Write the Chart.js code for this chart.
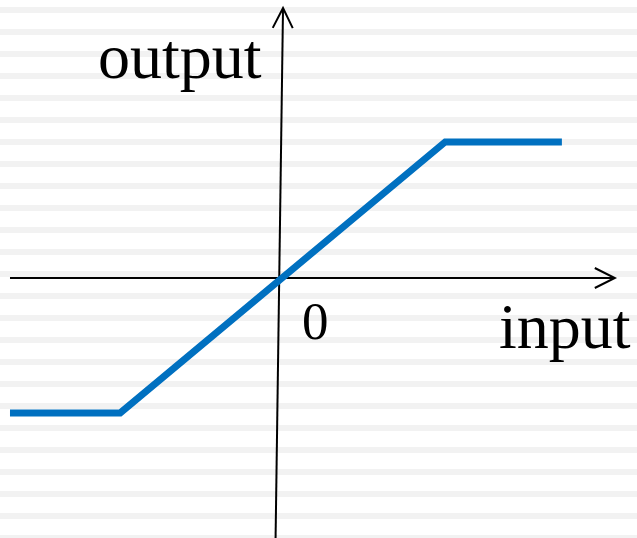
<!DOCTYPE html>
<html>
<head>
<meta charset="utf-8">
<script src="https://cdn.jsdelivr.net/npm/chart.js@4"></script>
<style>
  html, body { margin: 0; padding: 0; background: #fff; }
  #wrap { width: 637px; height: 538px; }
</style>
</head>
<body>
<div id="wrap"><canvas id="c"></canvas></div>
<script>
// saturating (clipped linear) transfer function
const inputValues = [-5, -2.96, 3.06, 5.22];
const outputValues = [-2.5, -2.5, 2.52, 2.52];
const xLabel = 'input';
const yLabel = 'output';
const originLabel = '0';

const points = inputValues.map((x, i) => ({ x: x, y: outputValues[i] }));

const stripes = {
    id: 'stripes',
    beforeDraw(chart) {
        const ctx = chart.ctx;
        ctx.save();
        ctx.fillStyle = '#f2f2f2';
        for (let y = 7; y < chart.height; y += 22) {
            ctx.fillRect(0, y, chart.width, 6);
        }
        ctx.restore();
    }
};

function arrowHead(ctx, tx, ty, dx, dy) {
    // open V arrow, (dx,dy) unit direction of the shaft
    const len = 20, half = 10;
    const bx = tx - dx * len, by = ty - dy * len;
    ctx.beginPath();
    ctx.moveTo(bx - dy * half, by + dx * half);
    ctx.lineTo(tx, ty);
    ctx.lineTo(bx + dy * half, by - dx * half);
    ctx.stroke();
}

const axesArrows = {
    id: 'axesArrows',
    beforeDatasetsDraw(chart) {
        const ctx = chart.ctx;
        const xs = chart.scales.x, ys = chart.scales.y;
        ctx.save();
        ctx.strokeStyle = '#000';
        ctx.lineWidth = 2;

        // horizontal axis
        const y0 = ys.getPixelForValue(0);
        const xa = xs.getPixelForValue(-5), xb = xs.getPixelForValue(6.2);
        ctx.beginPath();
        ctx.moveTo(xa, y0);
        ctx.lineTo(xb, y0);
        ctx.stroke();
        arrowHead(ctx, xb, y0, 1, 0);

        // vertical axis (slightly leaning, as in the original sketch)
        const tx = xs.getPixelForValue(0.056), ty = ys.getPixelForValue(5.0);
        const bx = xs.getPixelForValue(-0.083), by = ys.getPixelForValue(-4.9);
        ctx.beginPath();
        ctx.moveTo(bx, by);
        ctx.lineTo(tx, ty);
        ctx.stroke();
        const l = Math.hypot(tx - bx, ty - by);
        arrowHead(ctx, tx, ty, (tx - bx) / l, (ty - by) / l);

        // labels
        ctx.fillStyle = '#000';
        ctx.textBaseline = 'alphabetic';
        ctx.textAlign = 'left';
        ctx.font = '64px "Liberation Serif", "Times New Roman", serif';
        ctx.fillText(yLabel, 98, 78);
        ctx.fillText(xLabel, 499, 348);
        ctx.font = '53px "Liberation Serif", "Times New Roman", serif';
        ctx.fillText(originLabel, 302, 339);
        ctx.restore();
    }
};

new Chart(document.getElementById('c'), {
    type: 'line',
    data: {
        datasets: [{
            data: points,
            borderColor: '#0070C0',
            borderWidth: 7,
            borderCapStyle: 'butt',
            borderJoinStyle: 'miter',
            pointRadius: 0,
            tension: 0,
            fill: false
        }]
    },
    options: {
        responsive: true,
        maintainAspectRatio: false,
        animation: false,
        layout: { padding: 0 },
        plugins: { legend: { display: false }, tooltip: { enabled: false } },
        scales: {
            x: { type: 'linear', min: -5.185, max: 6.611, display: false },
            y: { type: 'linear', min: -4.815, max: 5.148, display: false }
        }
    },
    plugins: [stripes, axesArrows]
});
</script>
</body>
</html>
